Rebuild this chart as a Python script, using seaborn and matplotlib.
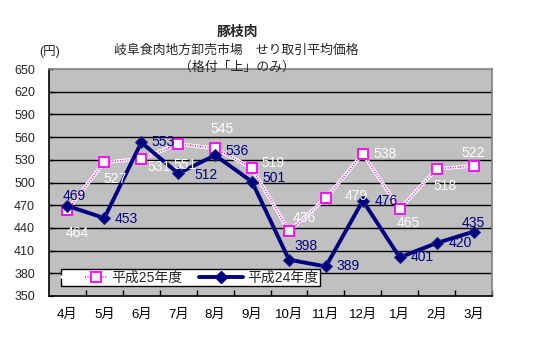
import matplotlib
matplotlib.use("Agg")
import matplotlib.pyplot as plt
from matplotlib.lines import Line2D
from matplotlib.legend_handler import HandlerTuple
from matplotlib.ticker import FixedLocator
import seaborn as sns
import pandas as pd

months = ["4月", "5月", "6月", "7月", "8月", "9月", "10月", "11月", "12月", "1月", "2月", "3月"]
h25 = [464, 527, 531, 551, 545, 519, 436, 479, 538, 465, 518, 522]
h24 = [469, 453, 553, 512, 536, 501, 398, 389, 476, 401, 420, 435]
yticks = [350, 380, 410, 440, 470, 500, 530, 560, 590, 620, 650]

# label offsets (points) relative to each marker: H25 and H24
h25_off = [(7, -17), (8, -12), (13, -6), (5, -15), (5, 14), (15, 4),
           (11, 9), (22, 2), (16, 0), (6, -10), (6, -12), (0, 9)]
h24_off = [(5, 7), (16, -1), (16, 0), (20, -1), (16, 3), (16, 3),
           (12, 10), (16, 0), (17, 0), (16, 0), (17, 0), (0, 6)]

sns.set_theme(style="white")
plt.rcParams["font.family"] = ["Liberation Sans", "Noto Sans CJK JP", "DejaVu Sans"]

df = pd.DataFrame({"month": months, "pos": range(len(months)), "h25": h25, "h24": h24})

fig = plt.figure(figsize=(5.5, 3.5), dpi=100)
ax = fig.add_axes([49 / 550, 1 - 296 / 350, (492 - 49) / 550, (296 - 69) / 350])
ax.set_facecolor("#C0C0C0")

for y in yticks[1:-1]:
    ax.axhline(y, color="black", lw=1.0, zorder=1)

PINK = "#FF00FF"
DOTS = (0, (0.5, 0.9))

# 平成25年度: white line speckled with magenta, open square markers
sns.lineplot(data=df, x="pos", y="h25", ax=ax, color="white", lw=2.6, zorder=3,
             legend=False)
sns.lineplot(data=df, x="pos", y="h25", ax=ax, color=PINK, lw=1.3,
             linestyle=DOTS, marker="s", markersize=7.5,
             markerfacecolor="white", markeredgecolor=PINK, markeredgewidth=1.3,
             zorder=4, legend=False)
# 平成24年度: navy line with diamond markers
sns.lineplot(data=df, x="pos", y="h24", ax=ax, color="#000080", lw=2.8,
             marker="D", markersize=6, markeredgecolor="#1a2a80", zorder=5,
             legend=False)

for i, (a, b) in enumerate(zip(h25, h24)):
    ax.annotate(str(a), (i, a), xytext=h25_off[i], textcoords="offset points",
                ha="center", va="center", color="white", fontsize=10, zorder=6)
    ax.annotate(str(b), (i, b), xytext=h24_off[i], textcoords="offset points",
                ha="center", va="center", color="#000080", fontsize=10, zorder=6)

ax.set_xlim(-0.5, len(months) - 0.5)
ax.set_ylim(350, 650)
ax.set_yticks(yticks)
ax.set_yticklabels([str(v) for v in yticks], fontsize=9)
ax.set_xticks(range(len(months)))
ax.set_xticklabels(months, fontsize=9.5)
ax.xaxis.set_minor_locator(FixedLocator([k + 0.5 for k in range(len(months))]))
ax.tick_params(axis="x", which="major", length=0, pad=9, colors="black")
ax.tick_params(axis="x", which="minor", direction="in", length=4, width=1,
               color="black", bottom=True)
ax.tick_params(axis="y", which="major", direction="in", length=3, width=1,
               color="black", pad=10, left=True)
ax.set_xlabel("")
ax.set_ylabel("")

for side in ["left", "bottom"]:
    ax.spines[side].set_color("black")
    ax.spines[side].set_linewidth(1.2)
for side in ["top", "right"]:
    ax.spines[side].set_color("#808080")
    ax.spines[side].set_linewidth(1.2)
    ax.spines[side].set_visible(True)

h25_handle = (
    Line2D([], [], color="white", lw=2.6),
    Line2D([], [], color=PINK, lw=1.3, linestyle=DOTS, marker="s", markersize=7.5,
           markerfacecolor="white", markeredgecolor=PINK, markeredgewidth=1.3),
)
h24_handle = Line2D([], [], color="#000080", lw=2.8, marker="D", markersize=6)
leg = ax.legend([h25_handle, h24_handle], ["平成25年度", "平成24年度"], ncol=2,
                loc="lower left", bbox_to_anchor=(12 / 443, 10 / 227), fontsize=10,
                frameon=True, fancybox=False, borderpad=0.1, handlelength=3.2,
                handletextpad=0.3, columnspacing=1.2, borderaxespad=0,
                handler_map={tuple: HandlerTuple(ndivide=None, pad=0)})
leg.get_frame().set_edgecolor("black")
leg.get_frame().set_linewidth(1.0)
leg.get_frame().set_facecolor("white")
leg.get_frame().set_alpha(1)
leg.set_zorder(7)

fig.text(237 / 550, 1 - 32 / 350, "豚枝肉", ha="center", va="center",
         fontsize=10, fontweight="bold")
fig.text(236 / 550, 1 - 50 / 350, "岐阜食肉地方卸売市場　せり取引平均価格",
         ha="center", va="center", fontsize=9.3)
fig.text(237 / 550, 1 - 68 / 350, "（格付「上」のみ）", ha="center", va="center",
         fontsize=9.3, zorder=10)
fig.text(50 / 550, 1 - 52 / 350, "(円)", ha="center", va="center", fontsize=9)

fig.savefig("out.png", dpi=100, facecolor="white")
